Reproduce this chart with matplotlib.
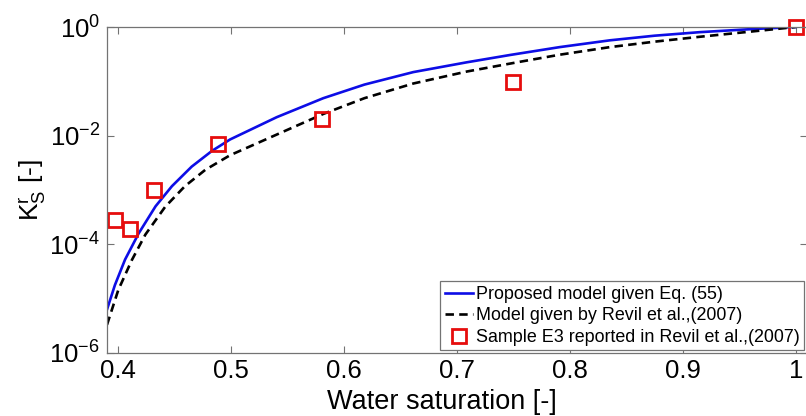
import matplotlib
matplotlib.use("Agg")
import matplotlib.pyplot as plt

plt.rcParams['font.family'] = ['Liberation Sans', 'DejaVu Sans']
plt.rcParams['mathtext.fontset'] = 'custom'
plt.rcParams['mathtext.rm'] = 'Liberation Sans'
plt.rcParams['mathtext.it'] = 'Liberation Sans'

# proposed model, Eq. (55) (log10 of K_S^r)
sw_prop = [0.390, 0.397, 0.406, 0.418, 0.433, 0.4475, 0.465, 0.483, 0.499,
           0.5403, 0.5816, 0.618, 0.6613, 0.7086, 0.747, 0.791, 0.8355,
           0.875, 0.915, 0.960, 1.000]
logk_prop = [-5.20, -4.75, -4.28, -3.80, -3.30, -2.93, -2.57, -2.28, -2.07,
             -1.66, -1.31, -1.06, -0.83, -0.65, -0.515, -0.37, -0.245,
             -0.16, -0.095, -0.04, 0.0]

# Revil et al. (2007) model
sw_revil = [0.390, 0.400, 0.412, 0.424, 0.4415, 0.459, 0.477, 0.499, 0.5403,
            0.5816, 0.618, 0.6613, 0.7086, 0.7558, 0.791, 0.8355, 0.875,
            0.915, 0.960, 1.000]
logk_revil = [-5.48, -4.84, -4.29, -3.82, -3.31, -2.93, -2.63, -2.36, -1.98,
              -1.60, -1.31, -1.04, -0.82, -0.64, -0.51, -0.37, -0.27,
              -0.18, -0.085, 0.0]

# sample E3 measurements
sw_e3 = [0.397, 0.4108, 0.432, 0.4885, 0.580, 0.750, 1.000]
k_e3 = [2.8e-4, 1.9e-4, 9.8e-4, 7.0e-3, 2.0e-2, 0.096, 1.0]

k_prop = [10 ** v for v in logk_prop]
k_revil = [10 ** v for v in logk_revil]

fig = plt.figure(figsize=(8.06, 4.16), dpi=100)
ax = fig.add_axes([107 / 806, 63 / 416, 700 / 806, 326 / 416])

ax.plot(sw_prop, k_prop, color=(0.05, 0.05, 0.9), lw=1.9,
        label='Proposed model given Eq. (55)')
ax.plot(sw_revil, k_revil, color='black', lw=1.9, ls=(0, (3.2, 2.0)),
        label='Model given by Revil et al.,(2007)')
ax.plot(sw_e3, k_e3, ls='none', marker='s', ms=10, mfc='none',
        mec=(0.9, 0.05, 0.05), mew=2.0, clip_on=False,
        label='Sample E3 reported in Revil et al.,(2007)')

ax.set_yscale('log')
ax.set_xlim(0.39, 1.01)
ax.set_ylim(1e-6, 1)
ax.set_xticks([0.4, 0.5, 0.6, 0.7, 0.8, 0.9, 1.0])
ax.set_xticklabels(['0.4', '0.5', '0.6', '0.7', '0.8', '0.9', '1'])
ax.set_yticks([1e-6, 1e-4, 1e-2, 1])
ax.set_yticklabels([r'10$^{-6}$', r'10$^{-4}$', r'10$^{-2}$', r'10$^{0}$'])
ax.minorticks_off()
ax.tick_params(direction='in', top=True, right=True, length=5, width=0.8,
               color='0.45', labelsize=18.5, pad=5)
ax.tick_params(axis='x', pad=4)
for s in ax.spines.values():
    s.set_color('0.45')
    s.set_linewidth(0.9)

ax.set_xlabel('Water saturation [-]', fontsize=19.5)
ax.xaxis.set_label_coords(0.479, -0.11)
ax.set_ylabel(r'K$^{\mathrm{r}}_{\mathrm{S}}$ [-]', fontsize=19, labelpad=0)

leg = ax.legend(loc='lower right', bbox_to_anchor=(1.0, 0.0), borderaxespad=0.15,
                fontsize=12.9, handlelength=1.6, handletextpad=0.15,
                labelspacing=0.25, borderpad=0.25, fancybox=False,
                framealpha=1, edgecolor='0.45')
leg.get_frame().set_linewidth(0.9)

fig.savefig('out.png', dpi=100)
